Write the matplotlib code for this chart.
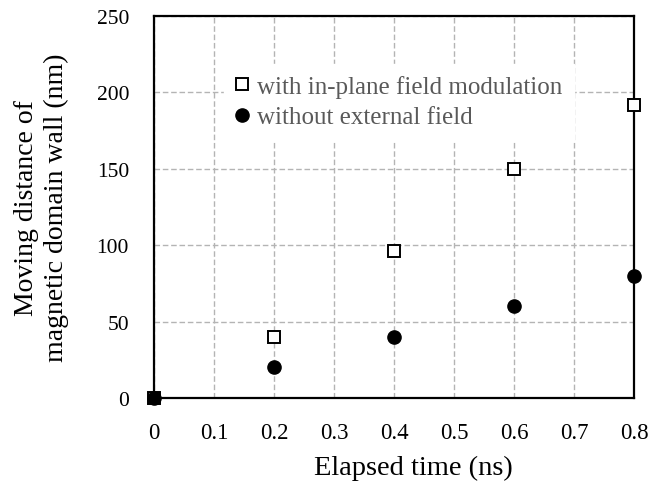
import matplotlib.pyplot as plt

plt.rcParams['font.family'] = ['Liberation Serif', 'DejaVu Serif']

# data
time_ns = [0, 0.2, 0.4, 0.6, 0.8]
dist_with_field = [0, 40, 96, 150, 192]
dist_without_field = [0, 20, 40, 60, 80]

fig = plt.figure(figsize=(6.65, 4.89), dpi=100)
ax = fig.add_axes([0.2316, 0.184, 0.7218, 0.781])

ax.plot(time_ns, dist_with_field, linestyle='none', marker='s', markersize=8.5,
        markerfacecolor='white', markeredgecolor='black', markeredgewidth=1.4,
        clip_on=False, zorder=4, label='with in-plane field modulation')
ax.plot(time_ns, dist_without_field, linestyle='none', marker='o', markersize=9.5,
        color='black', clip_on=False, zorder=5, label='without external field')

ax.set_xlim(0, 0.8)
ax.set_ylim(0, 250)
ax.set_xticks([0, 0.1, 0.2, 0.3, 0.4, 0.5, 0.6, 0.7, 0.8])
ax.set_xticklabels(['0', '0.1', '0.2', '0.3', '0.4', '0.5', '0.6', '0.7', '0.8'])
ax.set_yticks([0, 50, 100, 150, 200, 250])

ax.grid(True, color='#b4b4b4', linestyle=(0, (4, 2)), linewidth=1.0)
ax.set_axisbelow(True)
for sp in ax.spines.values():
    sp.set_linewidth(1.6)
    sp.set_color('black')

ax.tick_params(axis='x', length=0, pad=17, labelsize=16.5)
ax.tick_params(axis='y', length=0, pad=18, labelsize=15.5)

ax.set_xlabel('Elapsed time (ns)', fontsize=20.5)
ax.xaxis.set_label_coords(0.54, -0.15)
ax.set_ylabel('Moving distance of\nmagnetic domain wall (nm)', fontsize=20,
              linespacing=1.25)
ax.yaxis.set_label_coords(-0.178, 0.5)

leg = ax.legend(loc='center', bbox_to_anchor=(0.51, 0.776), frameon=True,
                fontsize=18, handlelength=0.6, handletextpad=0.3,
                labelspacing=0.32, borderpad=0.45, fancybox=False)
leg.get_frame().set_edgecolor('white')
leg.get_frame().set_facecolor('white')
leg.get_frame().set_alpha(1)
for t in leg.get_texts():
    t.set_color('#595959')

fig.savefig('out.png', dpi=100)
